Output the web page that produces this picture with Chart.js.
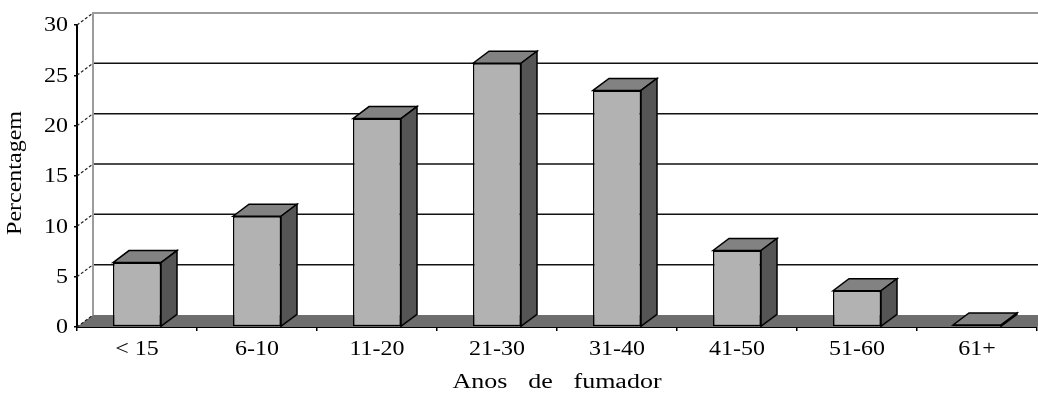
<!DOCTYPE html>
<html>
<head>
<meta charset="utf-8">
<script src="https://cdn.jsdelivr.net/npm/chart.js@4/dist/chart.umd.min.js"></script>
<style>
  body { margin: 0; background: #fff; }
  #wrap { width: 1038px; height: 396px; }
</style>
</head>
<body>
<div id="wrap"><canvas id="smokeChart" width="1038" height="396"></canvas></div>
<script>
// dados
const categories = ['< 15', '6-10', '11-20', '21-30', '31-40', '41-50', '51-60', '61+'];
const percentages = [6.4, 11.0, 20.7, 26.2, 23.5, 7.6, 3.6, 0.2];
const yTicks = [0, 5, 10, 15, 20, 25, 30];
const xTitle = 'Anos de fumador';
const yTitle = 'Percentagem';

// deslocamento da perspectiva 3D (parede do fundo)
const DX = 16;
const DY = -12;
const serif = '"Liberation Serif", "DejaVu Serif", serif';
const STRETCH = 1.2; // o texto do original é mais largo que o Times normal

function stretchedText(ctx, text, x, y, align, angle, sx) {
    ctx.save();
    ctx.translate(x, y);
    if (angle) ctx.rotate(angle);
    ctx.scale(sx || STRETCH, 1);
    ctx.textAlign = align;
    ctx.fillText(text, 0, 0);
    ctx.restore();
}

const pseudo3d = {
    id: 'pseudo3d',
    beforeDatasetsDraw: function(chart) {
        const ctx = chart.ctx;
        const a = chart.chartArea;
        const y = chart.scales.y;
        ctx.save();

        // chão
        ctx.fillStyle = '#6e6e6e';
        ctx.beginPath();
        ctx.moveTo(a.left, a.bottom);
        ctx.lineTo(a.left + DX, a.bottom + DY);
        ctx.lineTo(a.right + DX, a.bottom + DY);
        ctx.lineTo(a.right, a.bottom);
        ctx.closePath();
        ctx.fill();

        // linhas da grelha na parede do fundo
        ctx.strokeStyle = '#111';
        ctx.lineWidth = 1.5;
        yTicks.forEach(v => {
            if (v === 0 || v === yTicks[yTicks.length - 1]) return;
            const py = y.getPixelForValue(v) + DY;
            ctx.beginPath();
            ctx.moveTo(a.left + DX, py);
            ctx.lineTo(a.right + DX, py);
            ctx.stroke();
        });

        // moldura da parede (cinzento)
        ctx.strokeStyle = '#9c9c9c';
        ctx.lineWidth = 2;
        const topY = y.getPixelForValue(yTicks[yTicks.length - 1]) + DY;
        ctx.beginPath();
        ctx.moveTo(a.left + DX, a.bottom + DY);
        ctx.lineTo(a.left + DX, topY);
        ctx.lineTo(a.right + DX, topY);
        ctx.stroke();

        // ligações tracejadas do eixo à parede
        ctx.strokeStyle = '#222';
        ctx.lineWidth = 1.2;
        ctx.setLineDash([3, 2]);
        yTicks.forEach(v => {
            const py = y.getPixelForValue(v);
            ctx.beginPath();
            ctx.moveTo(a.left, py);
            ctx.lineTo(a.left + DX, py + DY);
            ctx.stroke();
        });
        ctx.setLineDash([]);
        ctx.restore();
    },
    afterDatasetsDraw: function(chart) {
        const ctx = chart.ctx;
        const meta = chart.getDatasetMeta(0);
        ctx.save();
        ctx.strokeStyle = '#000';
        ctx.lineWidth = 1.5;
        meta.data.forEach(bar => {
            const x0 = bar.x - bar.width / 2;
            const x1 = bar.x + bar.width / 2;
            const top = bar.y;
            const base = bar.base;

            // face de cima
            ctx.fillStyle = '#828282';
            ctx.beginPath();
            ctx.moveTo(x0, top);
            ctx.lineTo(x0 + DX, top + DY);
            ctx.lineTo(x1 + DX, top + DY);
            ctx.lineTo(x1, top);
            ctx.closePath();
            ctx.fill();
            ctx.stroke();

            // face lateral
            ctx.fillStyle = '#555555';
            ctx.beginPath();
            ctx.moveTo(x1, top);
            ctx.lineTo(x1 + DX, top + DY);
            ctx.lineTo(x1 + DX, base + DY);
            ctx.lineTo(x1, base);
            ctx.closePath();
            ctx.fill();
            ctx.stroke();
        });
        ctx.restore();
    },
    afterDraw: function(chart) {
        // rótulos e títulos, desenhados com a largura do original
        const ctx = chart.ctx;
        const a = chart.chartArea;
        const xs = chart.scales.x;
        const ys = chart.scales.y;
        ctx.save();
        ctx.font = '20px ' + serif;
        ctx.fillStyle = '#000';
        ctx.textBaseline = 'middle';

        yTicks.forEach(v => {
            stretchedText(ctx, String(v), a.left - 9, ys.getPixelForValue(v) + 1, 'right');
        });
        categories.forEach((c, i) => {
            stretchedText(ctx, c, xs.getPixelForValue(i), 350, 'center');
        });

        ctx.wordSpacing = '11px';
        stretchedText(ctx, xTitle, (a.left + a.right) / 2, 383, 'center', 0, 1.3);
        ctx.wordSpacing = '0px';
        stretchedText(ctx, yTitle, 16, (a.top + a.bottom) / 2 - 3, 'center', -Math.PI / 2);
        ctx.restore();
    }
};

const ctx = document.getElementById('smokeChart').getContext('2d');
new Chart(ctx, {
    type: 'bar',
    data: {
        labels: categories,
        datasets: [{
            label: 'Percentagem',
            data: percentages,
            backgroundColor: '#b2b2b2',
            borderColor: '#000',
            borderWidth: 1.5,
            borderSkipped: false,
            categoryPercentage: 1,
            barPercentage: 0.4
        }]
    },
    options: {
        responsive: false,
        animation: false,
        events: [],
        layout: { padding: { left: 0, right: 1, top: 25, bottom: 0 } },
        plugins: { legend: { display: false }, tooltip: { enabled: false } },
        scales: {
            x: {
                grid: {
                    offset: true,
                    drawOnChartArea: false,
                    drawTicks: true,
                    tickLength: 4,
                    color: '#000',
                    lineWidth: 1.5
                },
                border: { display: true, color: '#000', width: 2 },
                ticks: { display: false },
                afterFit: function(scale) { scale.height = 69; }
            },
            y: {
                min: 0,
                max: 30,
                afterBuildTicks: function(scale) {
                    scale.ticks = yTicks.map(v => ({ value: v }));
                },
                grid: {
                    drawOnChartArea: false,
                    drawTicks: true,
                    tickLength: 3,
                    color: '#000',
                    lineWidth: 1.5
                },
                border: { display: true, color: '#000', width: 2 },
                ticks: { display: false },
                afterFit: function(scale) { scale.width = 77; }
            }
        }
    },
    plugins: [pseudo3d]
});
</script>
</body>
</html>
